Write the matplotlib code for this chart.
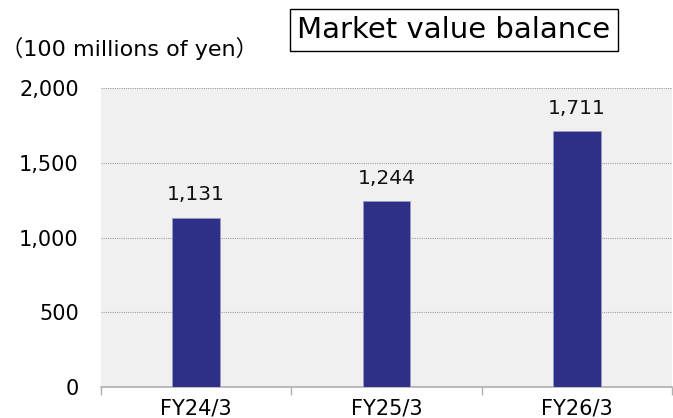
import matplotlib
matplotlib.use("Agg")
import matplotlib.pyplot as plt

# data
categories = ["FY24/3", "FY25/3", "FY26/3"]
values = [1131, 1244, 1711]
yticks = [0, 500, 1000, 1500, 2000]

plt.rcParams['font.family'] = ['DejaVu Sans', 'Noto Sans CJK JP']

fig = plt.figure(figsize=(6.73, 4.18), dpi=100)
ax = fig.add_axes([101/673, 1-387/418, (672-101)/673, (387-88)/418])
ax.set_facecolor('#f0f0f0')

x = range(len(categories))
ax.bar(x, values, width=0.25, color='#2e3087', edgecolor='#9a9ac8', linewidth=0.6, zorder=3)
for xi, v in zip(x, values):
    ax.text(xi, v + 90, f"{v:,}", ha='center', va='bottom', fontsize=14.5, color='#111111')

ax.set_xlim(-0.5, 2.5)
ax.set_ylim(0, 2000)
ax.set_yticks(yticks)
ax.set_yticklabels([f"{t:,}" for t in yticks], fontsize=15)
ax.yaxis.grid(True, linestyle=(0, (1, 1)), color='#a0a0a0', linewidth=0.8, zorder=1)
ax.tick_params(axis='y', length=0, pad=16)

# category ticks at boundaries
ax.set_xticks([-0.5, 0.5, 1.5, 2.5])
ax.set_xticklabels([])
ax.set_xticks(list(x), minor=True)
ax.set_xticklabels(categories, minor=True, fontsize=15)
ax.tick_params(axis='x', which='major', length=6, color='#b0b0b0', width=1)
ax.tick_params(axis='x', which='minor', length=0, pad=8)

for s in ['top', 'right', 'left']:
    ax.spines[s].set_visible(False)
ax.spines['bottom'].set_color('#b0b0b0')
ax.spines['bottom'].set_linewidth(1.2)

fig.text(1/673, 1-48/418, "（100 millions of yen）", fontsize=16, ha='left', va='center')
fig.text(454/673, 1-30/418, "Market value balance", fontsize=21, ha='center', va='center',
         bbox=dict(boxstyle='square,pad=0.25', facecolor='white', edgecolor='black', linewidth=1))

fig.savefig("out.png", dpi=100)
